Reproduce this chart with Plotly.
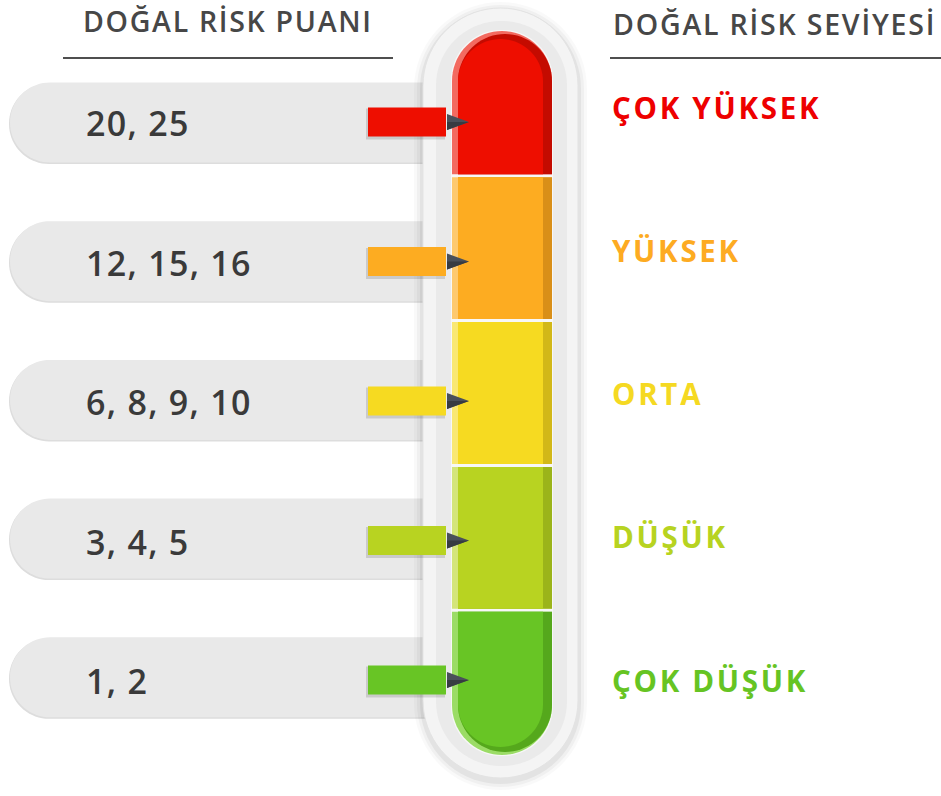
import math
import plotly.graph_objects as go

# ---------------- data ----------------
header_left = "DOĞAL RİSK PUANI"
header_right = "DOĞAL RİSK SEVİYESİ"
scores = ["20, 25", "12, 15, 16", "6, 8, 9, 10", "3, 4, 5", "1, 2"]
levels = ["ÇOK YÜKSEK", "YÜKSEK", "ORTA", "DÜŞÜK", "ÇOK DÜŞÜK"]
level_colors = ["#ee0e00", "#fdac21", "#f6da21", "#b8d321", "#68c525"]
level_dark = ["#c40b00", "#d98f18", "#d2b818", "#9bb41a", "#55a81c"]
level_light = ["#f36a60", "#fec96e", "#f9e873", "#d4e57a", "#9bdc66"]
label_colors = ["#ee0000", "#fdab22", "#f5d922", "#b7d321", "#66c423"]

# ---------------- layout constants ----------------
W, H = 941, 796
FONT = "Open Sans"
n = len(scores)

PILL_X0, PILL_X1, PILL_H, PILL_Y0, PILL_STEP = 10, 440, 80, 122.5, 138.7
ARROW_X0, ARROW_LEN, ARROW_H, ARROW_Y0, ARROW_STEP = 368, 78, 29, 122, 139.5
LABEL_Y0, LABEL_STEP = 107, 143.25
TUBE_X0, TUBE_X1, TUBE_TOP, TUBE_BOT, GAP = 452, 552, 31, 755, 3
CAP_X0, CAP_X1, CAP_TOP, CAP_BOT = 423, 578, 8, 778


def spaced(txt, px):
    return f"<span style='letter-spacing:{px}px'>{txt}</span>"


def rounded(x0, y0, x1, y1, tl=0, tr=0, br=0, bl=0, steps=18):
    pts = []

    def arc(cx, cy, r, a0, a1):
        if r <= 0:
            pts.append((cx, cy))
            return
        for i in range(steps + 1):
            a = math.radians(a0 + (a1 - a0) * i / steps)
            pts.append((cx + r * math.cos(a), cy + r * math.sin(a)))

    arc(x1 - tr, y0 + tr, tr, -90, 0)
    arc(x1 - br, y1 - br, br, 0, 90)
    arc(x0 + bl, y1 - bl, bl, 90, 180)
    arc(x0 + tl, y0 + tl, tl, 180, 270)
    d = "M " + " L ".join(f"{x:.2f},{y:.2f}" for x, y in pts) + " Z"
    return d


shapes = []


def add_path(d, fill, line_color=None, line_width=0, opacity=1):
    shapes.append(dict(type="path", path=d, xref="x", yref="y", fillcolor=fill,
                       line=dict(color=line_color or fill, width=line_width),
                       opacity=opacity, layer="below"))


# pills (left)
pill_c = [PILL_Y0 + k * PILL_STEP for k in range(n)]
for c in pill_c:
    r = PILL_H / 2
    add_path(rounded(PILL_X0 - 1, c - r + 1, PILL_X1, c + r + 1.5, tl=r, bl=r), "#dddddd")
    add_path(rounded(PILL_X0, c - r, PILL_X1, c + r, tl=r, bl=r), "#e9e9e9")

# thermometer capsule with soft shadow
for i, a in enumerate([0.025, 0.035, 0.05]):
    e = 9 - i * 3
    rr = (CAP_X1 - CAP_X0) / 2 + e
    add_path(rounded(CAP_X0 - e, CAP_TOP - e + 3, CAP_X1 + e, CAP_BOT + e + 3,
                     rr, rr, rr, rr), "#000000", opacity=a)
rr = (CAP_X1 - CAP_X0) / 2
add_path(rounded(CAP_X0, CAP_TOP, CAP_X1, CAP_BOT, rr, rr, rr, rr), "#f4f4f4",
         line_color="#e3e3e3", line_width=1)
rr2 = rr - 13
add_path(rounded(CAP_X0 + 13, CAP_TOP + 13, CAP_X1 - 11, CAP_BOT - 12, rr2, rr2, rr2, rr2), "#eaeaea")
tr = (TUBE_X1 - TUBE_X0) / 2
add_path(rounded(TUBE_X0 - 1, TUBE_TOP - 1, TUBE_X1 + 1, TUBE_BOT + 1, tr, tr, tr, tr), "#f7f7f7")

# tube segments
seg_p = (TUBE_BOT - TUBE_TOP) / n
for k in range(n):
    y0 = TUBE_TOP + k * seg_p + (GAP / 2 if k > 0 else 0)
    y1 = TUBE_TOP + (k + 1) * seg_p - (GAP / 2 if k < n - 1 else 0)
    top = k == 0
    bot = k == n - 1
    r1, r2, r3 = tr, tr - 3, tr - 7.5
    add_path(rounded(TUBE_X0, y0, TUBE_X1, y1,
                     tl=r1 if top else 0, tr=r1 if top else 0,
                     br=r1 if bot else 0, bl=r1 if bot else 0), level_light[k])
    add_path(rounded(TUBE_X0 + 6, y0 + (3 if top else 0), TUBE_X1, y1 - (3 if bot else 0),
                     tl=r2 if top else 0, tr=r2 if top else 0,
                     br=r2 if bot else 0, bl=r2 if bot else 0), level_dark[k])
    add_path(rounded(TUBE_X0 + 6, y0 + (8 if top else 0), TUBE_X1 - 9, y1 - (8 if bot else 0),
                     tl=r3 if top else 0, tr=r3 if top else 0,
                     br=r3 if bot else 0, bl=r3 if bot else 0), level_colors[k])

# arrow shadows and arrow heads
arrow_c = [ARROW_Y0 + k * ARROW_STEP for k in range(n)]
for c in arrow_c:
    add_path(rounded(ARROW_X0 - 2, c - ARROW_H / 2 + 1, ARROW_X0 + ARROW_LEN - 1, c + ARROW_H / 2 + 3),
             "#000000", opacity=0.13)
    hx0 = ARROW_X0 + ARROW_LEN + 1
    add_path(f"M {hx0},{c-8} L {hx0+22},{c} L {hx0},{c+8} Z", "#4a505a")
    add_path(f"M {hx0},{c} L {hx0+22},{c} L {hx0},{c+8} Z", "#373b42")

# header underlines
shapes.append(dict(type="line", xref="x", yref="y", x0=63, x1=393, y0=58, y1=58,
                   line=dict(color="#4f4f4f", width=2), layer="below"))
shapes.append(dict(type="line", xref="x", yref="y", x0=610, x1=941, y0=58, y1=58,
                   line=dict(color="#4f4f4f", width=2), layer="below"))

fig = go.Figure()
# colored arrow bars
fig.add_trace(go.Bar(
    orientation="h", y=arrow_c, x=[ARROW_LEN] * n, base=[ARROW_X0] * n,
    width=[ARROW_H] * n, marker=dict(color=level_colors, line=dict(width=0)),
    hoverinfo="skip", showlegend=False))

annotations = []
annotations.append(dict(text=spaced(header_left, 1.7), x=81, y=21, xref="x", yref="y", showarrow=False,
                        xanchor="left", yanchor="middle",
                        font=dict(family=FONT, size=28.5, color="#474747", weight=600)))
annotations.append(dict(text=spaced(header_right, 1.8), x=611, y=24, xref="x", yref="y", showarrow=False,
                        xanchor="left", yanchor="middle",
                        font=dict(family=FONT, size=28.5, color="#474747", weight=600)))
for k in range(n):
    annotations.append(dict(text=spaced(scores[k], 1.3), x=84, y=arrow_c[k] + 1, xref="x", yref="y",
                            showarrow=False, xanchor="left", yanchor="middle",
                            font=dict(family=FONT, size=34, color="#3a3a3a", weight=600)))
    annotations.append(dict(text=spaced(levels[k], 2.7), x=610, y=LABEL_Y0 + k * LABEL_STEP, xref="x", yref="y",
                            showarrow=False, xanchor="left", yanchor="middle",
                            font=dict(family=FONT, size=29.5, color=label_colors[k], weight=700)))

fig.update_layout(
    width=W, height=H, autosize=False,
    margin=dict(l=0, r=0, t=0, b=0, pad=0),
    paper_bgcolor="white", plot_bgcolor="white",
    xaxis=dict(range=[0, W], visible=False, fixedrange=True),
    yaxis=dict(range=[H, 0], visible=False, fixedrange=True),
    shapes=shapes, annotations=annotations, barmode="overlay",
)

fig.write_html("out.html", config={"displayModeBar": False},
               post_script="document.body.style.margin='0';document.body.style.overflow='hidden';")
